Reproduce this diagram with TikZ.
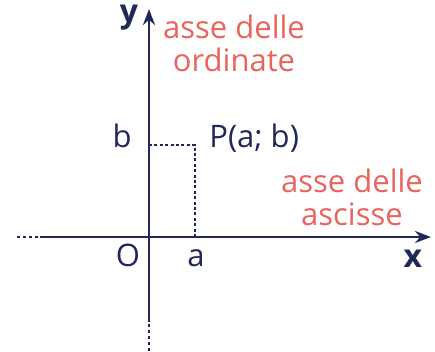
\documentclass[tikz,border=0pt]{standalone}
\usepackage{fontspec}
\setmainfont{Open Sans}
\usetikzlibrary{arrows.meta, positioning}
\definecolor{axisblue}{HTML}{1F2858}
\definecolor{labelred}{HTML}{E8645C}
\tikzset{
  axis/.style={draw=axisblue, line width=1.4pt},
  axisdots/.style={draw=axisblue, line width=1.4pt,
                   dash pattern=on 1.5pt off 1.5pt},
  guide/.style={draw=axisblue, line width=0.9pt,
                dash pattern=on 1.5pt off 1.2pt},
  lbl/.style={font=\fontsize{15.5}{16}\selectfont, text=axisblue,
              inner sep=0pt},
  axlbl/.style={font=\fontsize{16}{16}\selectfont\bfseries,
                text=axisblue, inner sep=0pt},
  note/.style={font=\fontsize{15.5}{16.5}\selectfont, text=labelred,
               align=center, inner sep=0pt},
}

\begin{document}
\begin{tikzpicture}[x=0.5pt, y=-0.5pt]
    \useasboundingbox (0,0) rectangle (435,352);
    %% axis points
    \coordinate (O)  at (149,237);
    \coordinate (xl) at (17,237);
    \coordinate (xm) at (40,237);
    \coordinate (xr) at (431,237);
    \coordinate (yt) at (149,9);
    \coordinate (ym) at (149,322);
    \coordinate (yb) at (149,351);
    %% point P and its projections
    \coordinate (P)  at (195,145);
    \coordinate (Pa) at (195,237);
    \coordinate (Pb) at (149,145);
    %% axes
    \draw[axisdots] (xl) -- (xm);
    \draw[axis, -{Stealth[length=8pt, width=6pt]}] (xm) -- (xr);
    \draw[axisdots] (yb) -- (ym);
    \draw[axis, -{Stealth[length=8pt, width=6pt]}] (ym) -- (yt);
    %% projections
    \draw[guide] (Pb) -- (P) -- (Pa);
    %% labels
    \node[axlbl, anchor=base] (ylab) at (129,23) {y};
    \node[axlbl, anchor=base] (xlab) at (413,268) {x};
    \node[lbl, anchor=base] (olab) at (128,267) {O};
    \node[lbl, anchor=base] (alab) at (196,267) {a};
    \node[lbl, anchor=base] (blab) at (122,148) {b};
    \node[lbl, anchor=base west] (plab) at (209,148) {P(a; b)};
    \node[note] (ordlab) at (234,43) {asse delle\\ordinate};
    \node[note] (asclab) at (352,197) {asse delle\\ascisse};
  \end{tikzpicture}
\end{document}
